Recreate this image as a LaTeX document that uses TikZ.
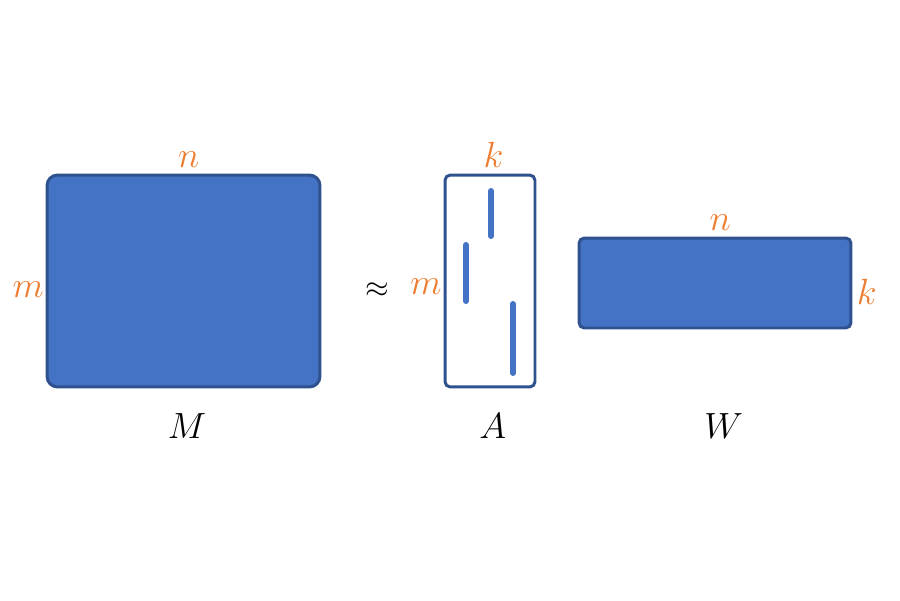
\documentclass[tikz,border=0pt]{standalone}
\usetikzlibrary{positioning}
\definecolor{fillblue}{HTML}{4472C4}
\definecolor{edgeblue}{HTML}{2F528F}
\definecolor{dimorange}{HTML}{ED7D31}

\begin{document}
\begin{tikzpicture}[x=0.02cm, y=-0.02cm, node distance=0pt,
    matbox/.style={draw=edgeblue, line width=1.7pt, fill=fillblue, rounded corners=6pt},
    sparsebox/.style={draw=edgeblue, line width=1.7pt, fill=white, rounded corners=3pt},
    dim/.style={text=dimorange, font=\fontsize{20}{22}\selectfont},
    matname/.style={font=\fontsize{20}{22}\selectfont},
    entry/.style={draw=fillblue, line width=3.4pt, line cap=round}]
    \useasboundingbox (0,0) rectangle (900,600);
    \node (M) [matbox, minimum width=5.46cm, minimum height=4.24cm] at (183.5,281) {};
    \node (A) [sparsebox, minimum width=1.8cm, minimum height=4.24cm] at (490,281) {};
    \node (W) [matbox, rounded corners=3pt, minimum width=5.44cm, minimum height=1.8cm] at (715,283) {};
    % sizes
    \node (Mn) [dim, above=0pt of M, xshift=3pt] {$n$};
    \node (Mm) [dim, left=0pt of M, xshift=2.5pt, yshift=-5pt] {$m$};
    \node (Ak) [dim, above=0pt of A, xshift=2pt] {$k$};
    \node (Am) [dim, left=0pt of A, xshift=2.5pt, yshift=-3pt] {$m$};
    \node (Wn) [dim, above=0pt of W, xshift=3pt] {$n$};
    \node (Wk) [dim, right=0pt of W, xshift=-1pt, yshift=-5pt] {$k$};
    % names
    \node (Mlab) [matname, below=11pt of M, xshift=2pt] {$M$};
    \node (Alab) [matname, below=11pt of A, xshift=1.5pt] {$A$};
    \node (Wlab) [matname, below=44.5pt of W, xshift=5pt] {$W$};
    \node (approx) [matname, font=\fontsize{16}{18}\selectfont] at (377,290) {$\approx$};
    % nonzeros of A
    \draw[entry] (491,191) -- (491,236);
    \draw[entry] (466,245) -- (466,301);
    \draw[entry] (513,304) -- (513,373);
\end{tikzpicture}
\end{document}
